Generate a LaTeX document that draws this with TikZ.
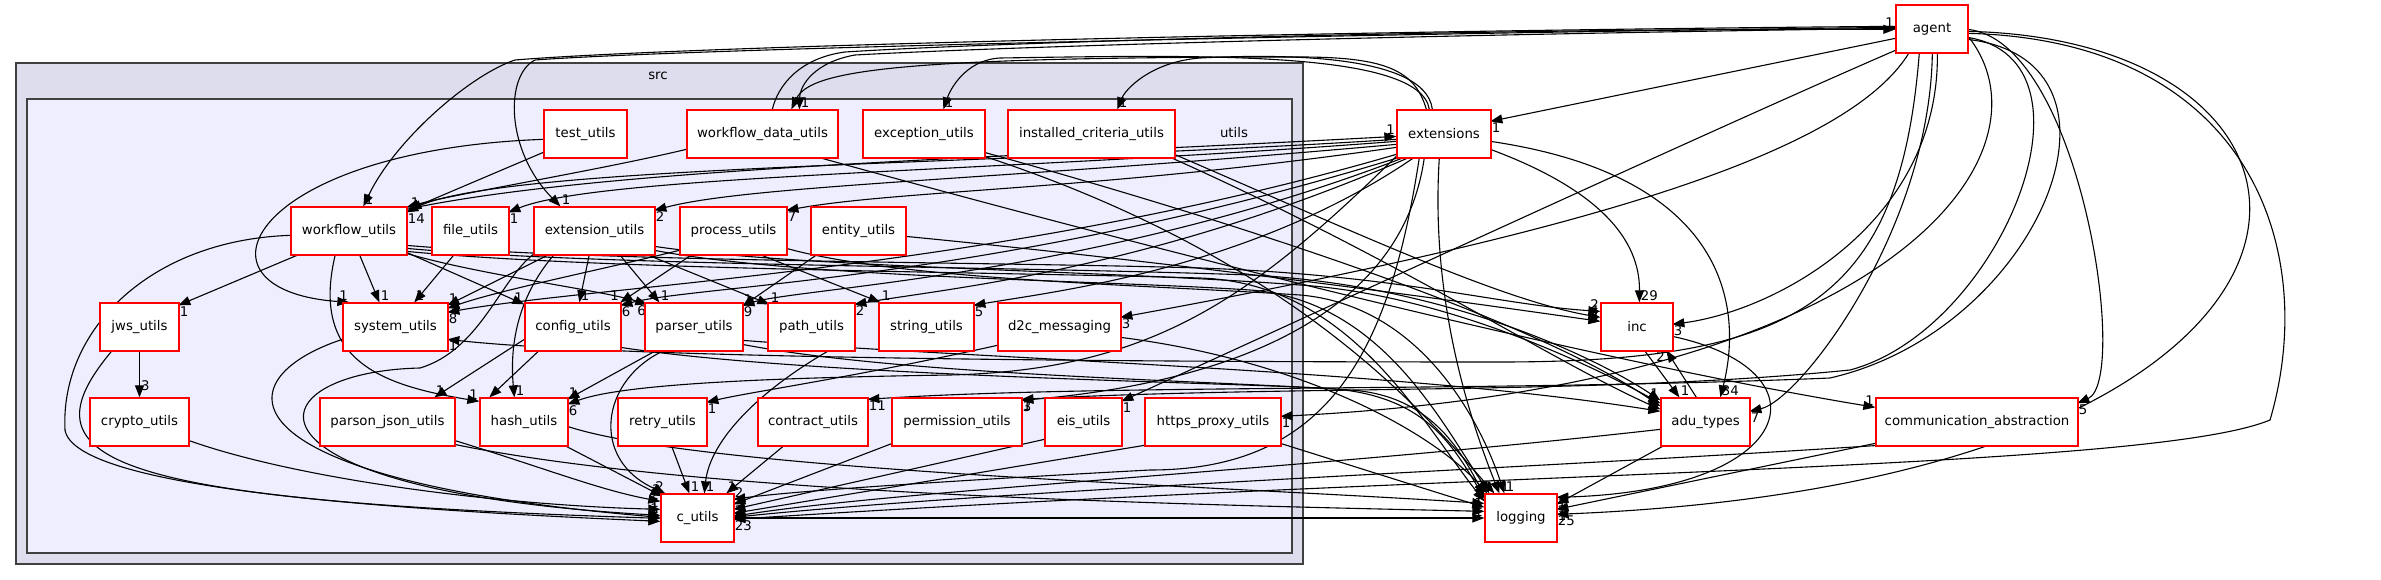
\documentclass[tikz,border=0pt]{standalone}
\usepackage{fontspec}
\setmainfont{DejaVu Sans}
\usetikzlibrary{arrows.meta,calc}
\definecolor{srcfill}{HTML}{DDDDEE}
\definecolor{utilfill}{HTML}{EEEEFF}
\definecolor{clborder}{HTML}{404040}
\pgfdeclarelayer{bg}
\pgfdeclarelayer{edges}
\pgfsetlayers{bg,edges,main}
\begin{document}
\begin{tikzpicture}[x=1pt,y=-1pt,
  box/.style={draw=red, fill=white, line width=1.3pt, minimum height=48pt, inner sep=0pt, font=\fontsize{13.3}{16}\selectfont},
  e/.style={line width=1.1pt, -{Triangle[length=12pt,width=9pt]}},
  lb/.style={font=\fontsize{13.3}{16}\selectfont, inner sep=1pt}]
\useasboundingbox (0,0) rectangle (2381,580);
\begin{pgfonlayer}{bg}
\fill[white] (0,0) rectangle (2381,580);
\draw[fill=srcfill, draw=clborder, line width=1.5pt] (16,63) rectangle (1303,564);
\draw[fill=utilfill, draw=clborder, line width=1.5pt] (27,99) rectangle (1292,553);
\end{pgfonlayer}
\node[lb] (srclabel) at (658,76) {src};
\node[lb] (utilslabel) at (1234,133) {utils};
% row 1
\node[box, minimum width=83pt] (tu) at (585.5,134) {test\_utils};
\node[box, minimum width=151pt] (wdu) at (762.5,134) {workflow\_data\_utils};
\node[box, minimum width=122pt] (exc) at (924,134) {exception\_utils};
\node[box, minimum width=167pt] (icu) at (1091.5,134) {installed\_criteria\_utils};
\node[box, minimum width=94pt] (ext) at (1444,134) {extensions};
\node[box, minimum width=72pt] (ag) at (1932,29) {agent};
% row 2
\node[box, minimum width=116pt] (wfu) at (349,231) {workflow\_utils};
\node[box, minimum width=77pt] (fu) at (470.5,231) {file\_utils};
\node[box, minimum width=121pt] (eu) at (594.5,231) {extension\_utils};
\node[box, minimum width=107pt] (pu) at (733.5,231) {process\_utils};
\node[box, minimum width=95pt] (en) at (858.5,231) {entity\_utils};
% row 3
\node[box, minimum width=79pt] (jws) at (139.5,327) {jws\_utils};
\node[box, minimum width=105pt] (su) at (395.5,327) {system\_utils};
\node[box, minimum width=96pt] (cfg) at (573,327) {config\_utils};
\node[box, minimum width=98pt] (par) at (694,327) {parser\_utils};
\node[box, minimum width=87pt] (pth) at (811.5,327) {path\_utils};
\node[box, minimum width=95pt] (str) at (926.5,327) {string\_utils};
\node[box, minimum width=123pt] (d2c) at (1059.5,327) {d2c\_messaging};
\node[box, minimum width=72pt] (inc) at (1637,327) {inc};
% row 4
\node[box, minimum width=99pt] (cry) at (139.5,422) {crypto\_utils};
\node[box, minimum width=135pt] (pj) at (387.5,422) {parson\_json\_utils};
\node[box, minimum width=88pt] (hu) at (524,422) {hash\_utils};
\node[box, minimum width=89pt] (ru) at (662.5,422) {retry\_utils};
\node[box, minimum width=110pt] (cu) at (813,422) {contract\_utils};
\node[box, minimum width=130pt] (pm) at (957,422) {permission\_utils};
\node[box, minimum width=77pt] (eis) at (1083.5,422) {eis\_utils};
\node[box, minimum width=136pt] (hp) at (1213,422) {https\_proxy\_utils};
\node[box, minimum width=89pt] (adu) at (1705.5,422) {adu\_types};
\node[box, minimum width=202pt] (com) at (1977,422) {communication\_abstraction};
% row 5
\node[box, minimum width=73pt] (cut) at (697.5,518) {c\_utils};
\node[box, minimum width=72pt] (log) at (1521,518) {logging};

\begin{pgfonlayer}{edges}
% ---------- agent ----------
\draw[e] ($(ag.north west)+(0,22)$) .. controls (1400,30) and (700,45) .. (515,60) .. controls (470,75) and (395,140) .. ($(wfu.north west)+(73,0)$) node[lb,at end,anchor=south west]{1};
\draw[e] ($(ag.north west)+(0,23)$) .. controls (1400,33) and (700,48) .. (535,60) .. controls (505,75) and (505,150) .. ($(eu.north west)+(27,0)$) node[lb,at end,anchor=south west]{1};
\draw[e] ($(ag.north west)+(0,24)$) .. controls (1400,35) and (1000,47) .. (855,55) .. controls (815,62) and (800,85) .. ($(wdu.north west)+(113,0)$) node[lb,at end,anchor=south west]{1};
\draw[e] ($(wdu.north west)+(86,0)$) .. controls (778,85) and (800,58) .. (845,52) .. controls (1000,42) and (1500,28) .. ($(ag.north west)+(0,25)$) node[lb,at end,anchor=south east]{1};
\draw[e] ($(ag.north west)+(0,34)$) -- ($(ext.north west)+(94,12)$) node[lb,at end,anchor=north west]{1};
\draw[e] ($(ag.north west)+(0,46)$) .. controls (1700,135) and (1300,320) .. ($(eis.north west)+(77,4)$) node[lb,at end,anchor=north west]{1};
\draw[e] ($(ag.north west)+(37,48)$) .. controls (1930,230) and (1800,400) .. ($(adu.north west)+(89,14)$) node[lb,at end,anchor=north west]{7};
\draw[e] ($(ag.north west)+(42,48)$) .. controls (1940,220) and (1780,310) .. ($(inc.north west)+(72,22)$) node[lb,at end,anchor=north west]{3};
\draw[e] ($(ag.north west)+(72,25)$) .. controls (2080,40) and (2130,380) .. ($(com.north west)+(202,6)$) node[lb,at end,anchor=north west]{5};
\draw[e] ($(ag.north west)+(72,27)$) .. controls (2390,40) and (2400,480) .. ($(log.north west)+(72,21)$) node[lb,at end,anchor=north west]{25};
\draw[e] ($(ag.north west)+(72,29)$) .. controls (2250,40) and (2320,250) .. (2270,420) .. controls (2150,470) and (1500,470) .. ($(cut.north west)+(73,26)$) node[lb,at end,anchor=north west]{23};
\draw[e] ($(ag.north west)+(72,31)$) .. controls (2060,150) and (1900,385) .. ($(hp.north west)+(136,19)$) node[lb,at end,anchor=north west]{1};
\draw[e] ($(ag.north west)+(14,48)$) .. controls (1850,150) and (1600,230) .. ($(d2c.north west)+(123,15)$) node[lb,at end,anchor=north west]{3};
\draw[e] ($(ag.north west)+(72,33)$) .. controls (2110,60) and (2000,330) .. (1850,370) .. controls (1600,395) and (1300,385) .. ($(pm.north west)+(130,2)$) node[lb,at end,anchor=north west]{1};
\draw[e] ($(ag.north west)+(72,35)$) .. controls (2150,60) and (2040,330) .. (1830,378) .. controls (1500,392) and (1100,384) .. ($(cu.north west)+(110,2)$) node[lb,at end,anchor=north west]{11};
\draw[e] ($(ag.north west)+(24,48)$) .. controls (1900,300) and (1800,362) .. (1500,362) .. controls (1000,362) and (600,356) .. ($(su.north west)+(105,37)$) node[lb,at end,anchor=north west]{1};
% ---------- extensions ----------
\draw[e] ($(ext.north west)+(0,30)$) .. controls (1000,165) and (500,165) .. ($(wfu.north west)+(116,6)$) node[lb,at end,anchor=north west]{14};
\draw[e] ($(ext.north west)+(0,32)$) .. controls (1000,172) and (600,175) .. ($(fu.north west)+(77,6)$) node[lb,at end,anchor=north west]{1};
\draw[e] ($(ext.north west)+(0,35)$) .. controls (1000,180) and (750,185) .. ($(eu.north west)+(121,4)$) node[lb,at end,anchor=north west]{2};
\draw[e] ($(ext.north west)+(0,38)$) .. controls (1100,190) and (900,190) .. ($(pu.north west)+(107,4)$) node[lb,at end,anchor=north west]{7};
\draw[e] ($(wfu.north west)+(116,3)$) .. controls (600,168) and (1000,158) .. ($(ext.north west)+(0,27)$) node[lb,at end,anchor=south east]{1};
\draw[e] ($(ext.north west)+(30,0)$) .. controls (1415,70) and (1385,57) .. (1300,57) .. controls (900,57) and (810,70) .. ($(wdu.north west)+(105,0)$);
\draw[e] ($(ext.north west)+(33,0)$) .. controls (1420,50) and (1200,55) .. (1000,58) .. controls (965,60) and (950,90) .. ($(exc.north west)+(81,0)$) node[lb,at end,anchor=south west]{1};
\draw[e] ($(ext.north west)+(36,0)$) .. controls (1425,50) and (1260,55) .. (1200,58) .. controls (1150,62) and (1125,90) .. ($(icu.north west)+(110,0)$) node[lb,at end,anchor=south west]{1};
\draw[e] ($(ext.north west)+(0,45)$) .. controls (1000,270) and (600,285) .. ($(su.north west)+(105,10)$) node[lb,at end,anchor=north west]{8};
\draw[e] ($(ext.north west)+(3,48)$) .. controls (1000,280) and (700,285) .. ($(cfg.north west)+(96,3)$) node[lb,at end,anchor=north west]{6};
\draw[e] ($(ext.north west)+(8,48)$) .. controls (1100,275) and (800,288) .. ($(par.north west)+(98,3)$) node[lb,at end,anchor=north west]{9};
\draw[e] ($(ext.north west)+(13,48)$) .. controls (1150,270) and (950,288) .. ($(pth.north west)+(87,2)$) node[lb,at end,anchor=north west]{2};
\draw[e] ($(ext.north west)+(18,48)$) .. controls (1250,270) and (1050,292) .. ($(str.north west)+(95,3)$) node[lb,at end,anchor=north west]{5};
\draw[e] ($(ext.north west)+(94,40)$) .. controls (1600,190) and (1640,240) .. ($(inc.north west)+(39,0)$) node[lb,at end,anchor=south west]{29};
\draw[e] ($(ext.north west)+(94,32)$) .. controls (1720,175) and (1745,300) .. ($(adu.north west)+(60,0)$) node[lb,at end,anchor=south west]{34};
\draw[e] ($(ext.north west)+(43,48)$) .. controls (1430,300) and (1470,420) .. ($(log.north west)+(15,0)$) node[lb,at end,anchor=south west]{1};
\draw[e] ($(ext.north west)+(23,48)$) .. controls (1390,350) and (1330,470) .. (1150,470) .. controls (1000,478) and (800,490) .. ($(cut.north west)+(73,6)$) node[lb,at end,anchor=south west]{2};
\draw[e] ($(ext.north west)+(0,47)$) .. controls (1250,300) and (1150,370) .. (950,375) .. controls (750,378) and (620,385) .. ($(hu.north west)+(88,7)$) node[lb,at end,anchor=north west]{6};
\draw[e] ($(ext.north west)+(28,48)$) .. controls (1400,330) and (1200,385) .. ($(pm.north west)+(130,3)$) node[lb,at end,anchor=north west]{3};
% ---------- utils internal ----------
\draw[e] ($(tu.north west)+(0,43)$) -- ($(wfu.north west)+(119,3)$) node[lb,at end,anchor=south west]{1};
\draw[e] ($(tu.north west)+(0,30)$) .. controls (250,150) and (180,290) .. ($(su.north west)+(7,0)$) node[lb,at end,anchor=south east]{1};
\draw[e] ($(wdu.north west)+(0,40)$) .. controls (600,170) and (450,195) .. ($(wfu.north west)+(116,1)$);
\draw[e] ($(wdu.north west)+(132,48)$) .. controls (1300,290) and (1650,370) .. ($(com.north west)+(0,10)$) node[lb,at end,anchor=south east]{1};
\draw[e] ($(exc.north west)+(122,43)$) .. controls (1300,240) and (1550,330) .. ($(adu.north west)+(0,9)$) node[lb,at end,anchor=south east]{2};
\draw[e] ($(exc.north west)+(122,47)$) .. controls (1300,260) and (1430,420) .. ($(log.north west)+(10,0)$) node[lb,at end,anchor=south east]{1};
\draw[e] ($(icu.north west)+(167,45)$) .. controls (1350,230) and (1500,300) .. ($(inc.north west)+(0,15)$) node[lb,at end,anchor=south east]{4};
\draw[e] ($(icu.north west)+(163,48)$) .. controls (1400,260) and (1550,360) .. ($(adu.north west)+(0,12)$) node[lb,at end,anchor=south east]{1};
\draw[e] ($(wfu.north west)+(9,48)$) -- ($(jws.north west)+(79,3)$) node[lb,at end,anchor=north west]{1};
\draw[e] ($(wfu.north west)+(69,48)$) -- ($(su.north west)+(37,0)$) node[lb,at end,anchor=south west]{1};
\draw[e] ($(wfu.north west)+(0,29)$) .. controls (150,240) and (60,330) .. (65,430) .. controls (75,490) and (400,510) .. ($(cut.north west)+(0,28)$) node[lb,at end,anchor=south east]{3};
\draw[e] ($(wfu.north west)+(45,48)$) .. controls (310,360) and (380,385) .. ($(hu.north west)+(0,4)$) node[lb,at end,anchor=south east]{1};
\draw[e] ($(wfu.north west)+(116,46)$) -- ($(cfg.north west)+(0,2)$) node[lb,at end,anchor=south east]{1};
\draw[e] ($(wfu.north west)+(116,47)$) .. controls (480,275) and (600,290) .. ($(par.north west)+(3,2)$) node[lb,at end,anchor=north east]{6};
\draw[e] ($(wfu.north west)+(116,39)$) .. controls (600,262) and (1000,262) .. (1200,268) .. controls (1400,275) and (1500,305) .. ($(inc.north west)+(0,9)$) node[lb,at end,anchor=south east]{2};
\draw[e] ($(wfu.north west)+(116,42)$) .. controls (600,266) and (1000,266) .. (1250,275) .. controls (1450,285) and (1600,360) .. ($(adu.north west)+(0,3)$) node[lb,at end,anchor=south east]{1};
\draw[e] ($(wfu.north west)+(116,45)$) .. controls (600,270) and (1000,272) .. (1200,278) .. controls (1350,283) and (1420,420) .. ($(log.north west)+(0,8)$) node[lb,at end,anchor=south east]{1};
\draw[e] ($(fu.north west)+(23,48)$) -- ($(su.north west)+(72,0)$) node[lb,at end,anchor=south west]{1};
\draw[e] ($(eu.north west)+(16,48)$) -- ($(su.north west)+(105,3)$) node[lb,at end,anchor=south west]{1};
\draw[e] ($(eu.north west)+(56,48)$) -- ($(cfg.north west)+(55,0)$) node[lb,at end,anchor=south west]{1};
\draw[e] ($(eu.north west)+(86,48)$) -- ($(par.north west)+(15,0)$) node[lb,at end,anchor=south west]{1};
\draw[e] ($(eu.north west)+(21,48)$) .. controls (515,300) and (510,350) .. ($(hu.north west)+(35,0)$) node[lb,at end,anchor=south west]{1};
\draw[e] ($(eu.north west)+(113,48)$) -- ($(pth.north west)+(2,2)$) node[lb,at end,anchor=south west]{1};
\draw[e] ($(eu.north west)+(0,48)$) .. controls (500,280) and (480,350) .. (420,368) .. controls (250,372) and (220,490) .. ($(cut.north west)+(0,22)$) node[lb,at end,anchor=south east]{1};
\draw[e] ($(eu.north west)+(121,40)$) .. controls (800,268) and (1100,270) .. (1300,285) .. controls (1450,295) and (1600,370) .. ($(adu.north west)+(0,6)$);
\draw[e] ($(eu.north west)+(121,44)$) .. controls (800,278) and (1100,280) .. (1250,290) .. controls (1380,300) and (1440,420) .. ($(log.north west)+(5,0)$) node[lb,at end,anchor=south east]{1};
\draw[e] ($(pu.north west)+(13,48)$) -- ($(cfg.north west)+(96,0)$) node[lb,at end,anchor=south east]{1};
\draw[e] ($(pu.north west)+(80,48)$) -- ($(str.north west)+(2,0)$) node[lb,at end,anchor=south west]{1};
\draw[e] ($(pu.north west)+(0,44)$) .. controls (600,270) and (500,290) .. ($(su.north west)+(105,6)$);
\draw[e] ($(pu.north west)+(107,42)$) .. controls (900,280) and (1150,285) .. (1300,295) .. controls (1420,305) and (1480,420) .. ($(log.north west)+(20,0)$) node[lb,at end,anchor=south west]{1};
\draw[e] ($(en.north west)+(7,48)$) -- ($(par.north west)+(98,4)$) node[lb,at end,anchor=south west]{1};
\draw[e] ($(en.north west)+(95,30)$) .. controls (1200,265) and (1450,300) .. ($(inc.north west)+(0,19)$) node[lb,at end,anchor=south east]{2};
\draw[e] (jws.south) -- (cry.north) node[lb,pos=0.75,anchor=west]{3};
\draw[e] ($(jws.north west)+(13,48)$) .. controls (20,460) and (100,500) .. ($(cut.north west)+(0,25)$);
\draw[e] ($(cry.north west)+(99,43)$) .. controls (300,480) and (500,505) .. ($(cut.north west)+(0,16)$) node[lb,at end,anchor=south east]{1};
\draw[e] ($(su.north west)+(0,37)$) .. controls (220,380) and (220,480) .. ($(cut.north west)+(0,24)$);
\draw[e] ($(cfg.north west)+(0,37)$) -- ($(pj.north west)+(115,0)$) node[lb,at end,anchor=south west]{1};
\draw[e] ($(cfg.north west)+(15,48)$) -- ($(hu.north west)+(10,0)$) node[lb,at end,anchor=north east]{1};
\draw[e] ($(cfg.north west)+(96,45)$) .. controls (800,375) and (1200,382) .. (1320,388) .. controls (1420,392) and (1450,440) .. ($(log.north west)+(0,5)$) node[lb,at end,anchor=south east]{1};
\draw[e] ($(par.north west)+(12,48)$) -- ($(hu.north west)+(88,2)$) node[lb,at end,anchor=south west]{1};
\draw[e] ($(par.north west)+(20,48)$) .. controls (600,380) and (590,460) .. ($(cut.north west)+(5,0)$) node[lb,at end,anchor=south east]{2};
\draw[e] ($(par.north west)+(98,42)$) .. controls (900,375) and (1200,380) .. (1350,390) .. controls (1430,395) and (1460,450) .. ($(log.north west)+(0,2)$);
\draw[e] ($(par.north west)+(98,38)$) .. controls (1000,360) and (1400,370) .. ($(adu.north west)+(0,14)$) node[lb,at end,anchor=south east]{5};
\draw[e] ($(pth.north west)+(62,48)$) .. controls (760,390) and (710,440) .. ($(cut.north west)+(44,0)$) node[lb,at end,anchor=south west]{1};
\draw[e] ($(ru.north west)+(54,48)$) -- ($(cut.north west)+(29,0)$) node[lb,at end,anchor=south west]{1};
\draw[e] ($(cu.north west)+(27,48)$) -- ($(cut.north west)+(66,0)$) node[lb,at end,anchor=south west]{1};
\draw[e] ($(pm.north west)+(1,46)$) -- ($(cut.north west)+(73,11)$) node[lb,at end,anchor=north west]{2};
\draw[e] ($(eis.north west)+(0,42)$) -- ($(cut.north west)+(73,16)$);
\draw[e] ($(hp.north west)+(0,48)$) -- ($(cut.north west)+(73,20)$);
\draw[e] ($(hp.north west)+(136,46)$) -- ($(log.north west)+(0,14)$) node[lb,at end,anchor=south east]{1};
\draw[e] ($(d2c.north west)+(0,43)$) .. controls (850,378) and (750,392) .. ($(ru.north west)+(89,5)$) node[lb,at end,anchor=north west]{1};
\draw[e] ($(d2c.north west)+(123,35)$) .. controls (1300,360) and (1430,430) .. ($(log.north west)+(3,0)$);
\draw[e] ($(pj.north west)+(135,43)$) .. controls (550,470) and (600,490) .. ($(cut.north west)+(0,8)$) node[lb,at end,anchor=south east]{2};
\draw[e] ($(pj.north west)+(135,47)$) .. controls (700,495) and (1200,505) .. ($(log.north west)+(0,18)$) node[lb,at end,anchor=south east]{1};
\draw[e] ($(hu.north west)+(85,48)$) -- ($(cut.north west)+(2,3)$) node[lb,at end,anchor=south east]{2};
\draw[e] ($(hu.north west)+(88,29)$) .. controls (700,470) and (1200,485) .. ($(log.north west)+(0,10)$);
\draw[e] (cut.east) -- (log.west) node[lb,at end,anchor=south east]{1};
% ---------- other external ----------
\draw[e] ($(adu.north west)+(36,0)$) -- ($(inc.north west)+(66,48)$) node[lb,at end,anchor=north east]{2};
\draw[e] ($(inc.north west)+(44,48)$) -- ($(adu.north west)+(19,0)$) node[lb,at end,anchor=south west]{1};
\draw[e] ($(adu.north west)+(4,48)$) -- ($(log.north west)+(72,11)$) node[lb,at end,anchor=north west]{2};
\draw[e] ($(adu.north west)+(0,32)$) .. controls (1300,470) and (900,490) .. ($(cut.north west)+(73,23)$);
\draw[e] ($(com.north west)+(0,46)$) -- ($(log.north west)+(72,16)$) node[lb,at end,anchor=north west]{1};
\draw[e] ($(com.north west)+(4,48)$) .. controls (1500,470) and (1000,490) .. ($(cut.north west)+(73,24)$);
\draw[e] ($(inc.north west)+(72,34)$) .. controls (1830,370) and (1800,490) .. ($(log.north west)+(72,4)$) node[lb,at end,anchor=north west]{1};
\end{pgfonlayer}
\end{tikzpicture}
\end{document}
